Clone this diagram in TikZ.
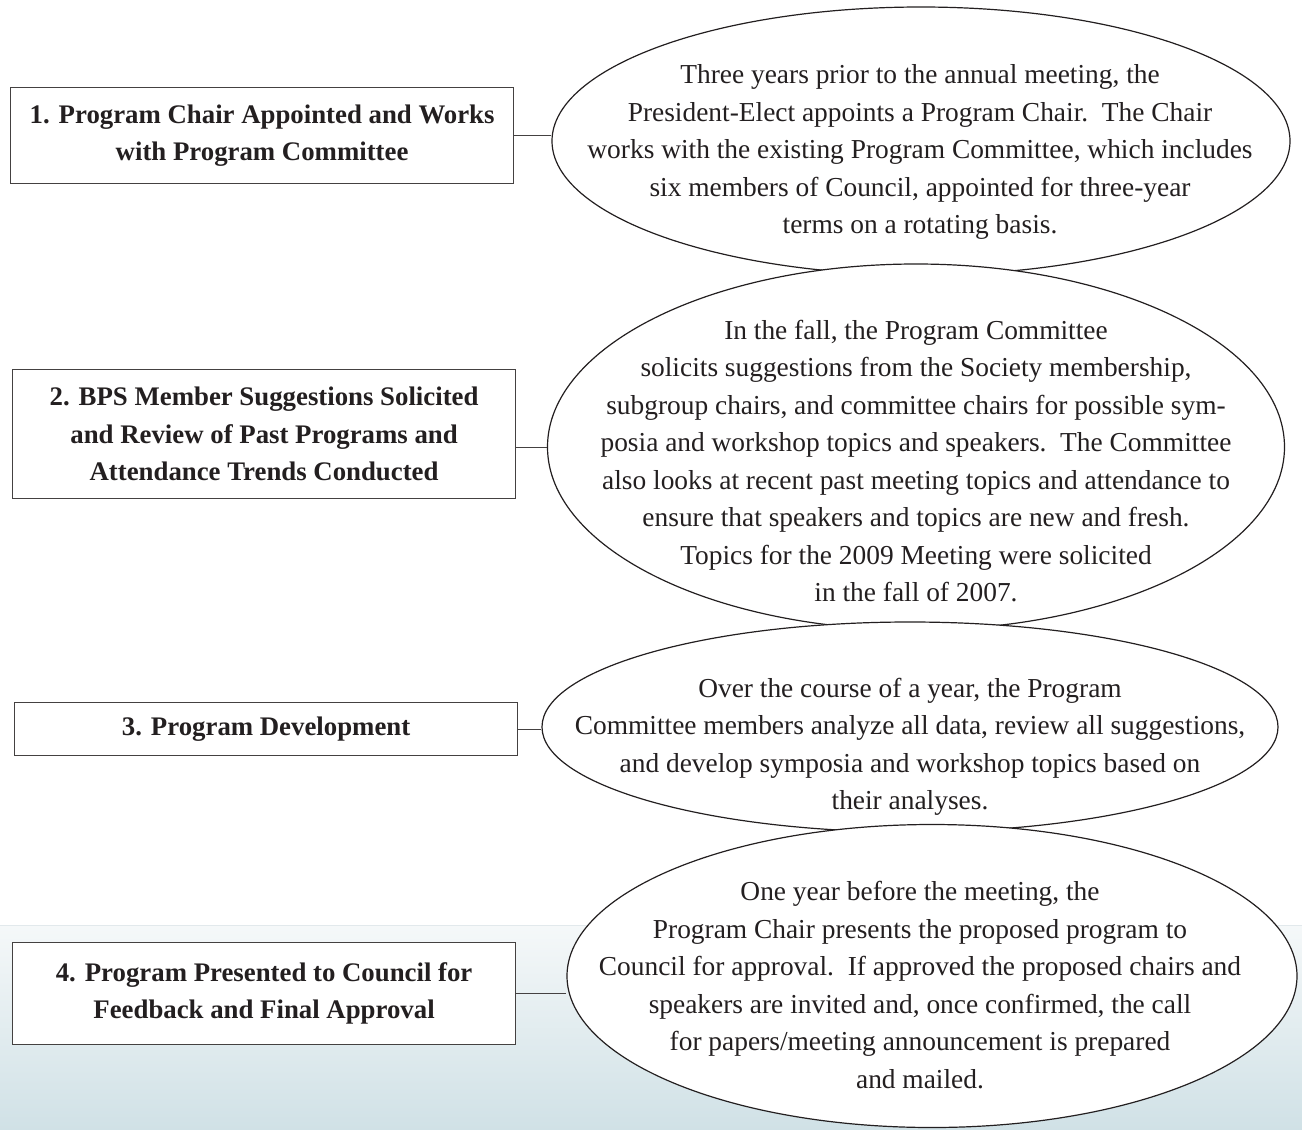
\documentclass[tikz,border=0pt]{standalone}
\usepackage{fontspec}
\setmainfont{Liberation Serif}
\usetikzlibrary{shapes.geometric}
\definecolor{ink}{RGB}{35,31,32}
\definecolor{bandtop}{RGB}{245,248,249}
\definecolor{bandbottom}{RGB}{208,225,230}
\definecolor{bandline}{RGB}{226,233,236}

\begin{document}
\begin{tikzpicture}[
  x=0.5pt, y=-0.5pt,
  stepbox/.style={draw=ink!85, fill=white, line width=0.6pt, minimum width=251.5pt, anchor=north west, inner sep=0pt, align=center, text=ink, font=\fontsize{13.4}{18.75}\selectfont\bfseries},
  bubble/.style={draw=ink, fill=white, ellipse, line width=0.6pt, inner sep=0pt},
  bubbletext/.style={align=center, text=ink, inner sep=0pt, font=\fontsize{13.7}{18.75}\selectfont},
  link/.style={draw=ink!85, line width=0.5pt}
]
\useasboundingbox (0,0) rectangle (1302,1130);

% Background band
\fill[top color=bandtop, bottom color=bandbottom] (0,925) rectangle (1302,1130);
\draw[bandline, line width=0.5pt] (0,925) -- (1302,925);

% Step 1
\node[bubble, minimum width=369pt, minimum height=134pt] (e1) at (921,141) {};
\node[bubbletext] (t1) at (920,152) {Three years prior to the annual meeting, the\\
  President-Elect appoints a Program Chair.\ \ The Chair\\
  works with the existing Program Committee, which includes\\
  six members of Council, appointed for three-year\\
  terms on a rotating basis.};
\node[stepbox, minimum height=48pt] (b1) at (10,87) {1. Program Chair Appointed and Works\\with Program Committee};

% Step 2
\node[bubble, minimum width=368.5pt, minimum height=183pt] (e2) at (916,447) {};
\node[bubbletext] (t2) at (916,461) {In the fall, the Program Committee\\
  solicits suggestions from the Society membership,\\
  subgroup chairs, and committee chairs for possible sym-\\
  posia and workshop topics and speakers.\ \ The Committee\\
  also looks at recent past meeting topics and attendance to\\
  ensure that speakers and topics are new and fresh.\\
  Topics for the 2009 Meeting were solicited\\
  in the fall of 2007.};
\node[stepbox, minimum height=64.5pt] (b2) at (12,369) {2. BPS Member Suggestions Solicited\\and Review of Past Programs and\\Attendance Trends Conducted};

% Step 3
\node[bubble, minimum width=368pt, minimum height=105pt] (e3) at (910,727) {};
\node[bubbletext] (t3) at (910,747) {Over the course of a year, the Program\\
  Committee members analyze all data, review all suggestions,\\
  and develop symposia and workshop topics based on\\
  their analyses.};
\node[stepbox, minimum height=26.5pt] (b3) at (14,702) {3. Program Development};

% Step 4
\node[bubble, minimum width=365pt, minimum height=151.5pt] (e4) at (932,976) {};
\node[bubbletext] (t4) at (920,985) {One year before the meeting, the\\
  Program Chair presents the proposed program to\\
  Council for approval.\ \ If approved the proposed chairs and\\
  speakers are invited and, once confirmed, the call\\
  for papers/meeting announcement is prepared\\
  and mailed.};
\node[stepbox, minimum height=51pt] (b4) at (12,942) {4. Program Presented to Council for\\Feedback and Final Approval};

% Connectors
\draw[link] (b1.east) -- (b1.east -| e1.west);
\draw[link] (e2.west -| b2.east) -- (e2.west);
\draw[link] (b3.east) -- (b3.east -| e3.west);
\draw[link] (b4.east) -- (b4.east -| e4.west);
\end{tikzpicture}
\end{document}
